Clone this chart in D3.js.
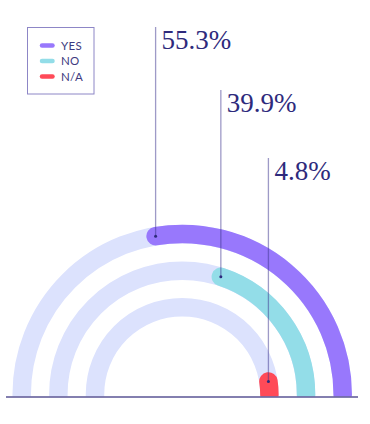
<!DOCTYPE html>
<html>
<head>
<meta charset="utf-8">
<script src="https://cdn.jsdelivr.net/npm/d3@7"></script>
<style>
  html, body { margin: 0; padding: 0; background: #ffffff; }
  svg { display: block; }
</style>
</head>
<body>
<div id="chart"></div>
<script>
// ---- data ----
const categories = ["YES", "NO", "N/A"];
const values = [55.3, 39.9, 4.8];
const valueLabels = ["55.3%", "39.9%", "4.8%"];
const colors = ["#9878fc", "#93dde8", "#ff4a58"];

// ---- layout ----
const W = 370, H = 424;
const cx = 182.2, cy = 394.5;
const bandWidth = 18.5;
const labelTops = [27, 90, 158];
const labelBaselineOffset = 22;

const svg = d3.select("#chart").append("svg")
  .attr("width", W).attr("height", H);

const defs = svg.append("defs");
defs.append("clipPath").attr("id", "above")
  .append("rect").attr("x", 0).attr("y", 0).attr("width", W).attr("height", 396.5);

const rScale = d3.scalePoint().domain(categories).range([160.5, 87.2]);
const aScale = d3.scaleLinear().domain([0, 100]).range([0, Math.PI]);

function arcPath(r, a, extend) {
  const p = d3.path();
  if (extend) { p.moveTo(cx + r, cy + 3); p.lineTo(cx + r, cy); }
  else p.moveTo(cx + r, cy);
  p.arc(cx, cy, r, 0, -a, true);
  if (extend) p.lineTo(cx + r * Math.cos(a), cy + 3);
  return p.toString();
}

const g = svg.append("g").attr("clip-path", "url(#above)");

// tracks
g.selectAll(".track").data(categories).join("path")
  .attr("class", "track")
  .attr("d", c => arcPath(rScale(c), Math.PI, true))
  .attr("fill", "none")
  .attr("stroke", "#dce2fd")
  .attr("stroke-width", bandWidth);

// value arcs
g.selectAll(".bar").data(categories).join("path")
  .attr("class", "bar")
  .attr("d", (c, i) => arcPath(rScale(c), aScale(values[i]), false))
  .attr("fill", "none")
  .attr("stroke", (c, i) => colors[i])
  .attr("stroke-width", bandWidth)
  .attr("stroke-linecap", "round");

// baseline
svg.append("line")
  .attr("x1", 6).attr("x2", 358)
  .attr("y1", 397).attr("y2", 397)
  .attr("stroke", "#5a5494").attr("stroke-width", 1.5);

// leaders + labels
const ends = categories.map((c, i) => {
  const a = aScale(values[i]), r = rScale(c);
  return { x: cx + r * Math.cos(a), y: cy - r * Math.sin(a) };
});

svg.selectAll(".leader").data(categories).join("line")
  .attr("class", "leader")
  .attr("x1", (c, i) => ends[i].x).attr("x2", (c, i) => ends[i].x)
  .attr("y1", (c, i) => labelTops[i]).attr("y2", (c, i) => ends[i].y)
  .attr("stroke", "#3d3690").attr("stroke-opacity", 0.5).attr("stroke-width", 1.3);

svg.selectAll(".dot").data(categories).join("circle")
  .attr("class", "dot")
  .attr("cx", (c, i) => ends[i].x).attr("cy", (c, i) => ends[i].y)
  .attr("r", 1.5).attr("fill", "#2e2a7c");

svg.selectAll(".vlabel").data(categories).join("text")
  .attr("class", "vlabel")
  .attr("x", (c, i) => ends[i].x + 6)
  .attr("y", (c, i) => labelTops[i] + labelBaselineOffset)
  .attr("font-family", "'Liberation Serif', 'DejaVu Serif', serif")
  .attr("font-size", 27)
  .attr("fill", "#2e2a7c")
  .text((c, i) => valueLabels[i]);

// legend
const lg = svg.append("g");
lg.append("rect")
  .attr("x", 27.5).attr("y", 27.5).attr("width", 66.5).attr("height", 66.5)
  .attr("fill", "none").attr("stroke", "#8d86c6").attr("stroke-width", 1);
const ly = d3.scalePoint().domain(categories).range([45.5, 76.5]);
lg.selectAll(".sw").data(categories).join("line")
  .attr("x1", 42).attr("x2", 52.5)
  .attr("y1", c => ly(c)).attr("y2", c => ly(c))
  .attr("stroke", (c, i) => colors[i])
  .attr("stroke-width", 4.5).attr("stroke-linecap", "round");
lg.selectAll(".lt").data(categories).join("text")
  .attr("x", 61).attr("y", c => ly(c) + 4.2)
  .attr("font-family", "Lato, 'Open Sans', sans-serif")
  .attr("font-size", 11.5)
  .attr("letter-spacing", 0.3)
  .attr("fill", "#3d3a80")
  .text(c => c);
</script>
</body>
</html>
